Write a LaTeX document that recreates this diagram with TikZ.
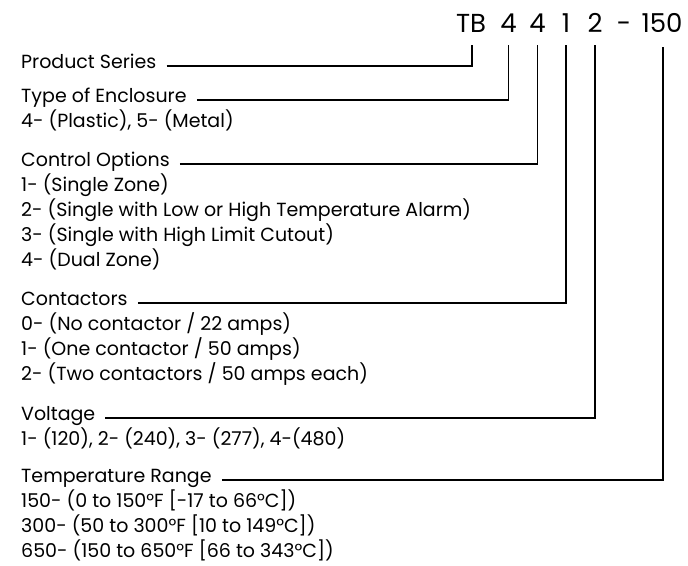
\documentclass[tikz,border=0pt]{standalone}
\usepackage{fontspec}
\setmainfont{Poppins}
\usepackage{tikz}
\usetikzlibrary{calc}

\begin{document}
\begin{tikzpicture}[x=1pt, y=-1pt, font=\fontsize{19}{22}\selectfont,
    every node/.style={inner sep=0pt},
    lead/.style={line width=1.6pt},
    code/.style={anchor=base, font=\fontsize{26}{30}\selectfont},
    item/.style={anchor=base west}]

    % 1. Fix the frame to the size of the sheet
    \useasboundingbox (0,0) rectangle (688,565);

    % 2. The model number across the top
    \node[code] (tb) at (471,32) {TB};
    \node[code] (encl) at (508.5,32) {4};
    \node[code] (ctrl) at (537.5,32) {4};
    \node[code] (cont) at (566,32) {1};
    \node[code] (volt) at (595,32) {2};
    \node[code] (dash) at (624,32) {-};
    \node[code] (temp) at (662,32) {150};

    % 3. Product series
    \node[item] (prod) at (21,68) {Product Series};

    % 4. Type of enclosure
    \node[item] (enclt) at (21,102) {Type of Enclosure};
    \node[item] (encla) at (21,127) {4- (Plastic), 5- (Metal)};

    % 5. Control options
    \node[item] (ctrlt) at (21,166) {Control Options};
    \node[item] (ctrla) at (21,191) {1- (Single Zone)};
    \node[item] (ctrlb) at (21,216) {2- (Single with Low or High Temperature Alarm)};
    \node[item] (ctrlc) at (21,241) {3- (Single with High Limit Cutout)};
    \node[item] (ctrld) at (21,266) {4- (Dual Zone)};

    % 6. Contactors
    \node[item] (contt) at (21,305) {Contactors};
    \node[item] (conta) at (21,330) {0- (No contactor / 22 amps)};
    \node[item] (contb) at (21,355) {1- (One contactor / 50 amps)};
    \node[item] (contc) at (21,380) {2- (Two contactors / 50 amps each)};

    % 7. Voltage
    \node[item] (voltt) at (21,420) {Voltage};
    \node[item] (volta) at (21,445) {1- (120), 2- (240), 3- (277), 4-(480)};

    % 8. Temperature range
    \node[item] (tempt) at (21,482) {Temperature Range};
    \node[item] (tempa) at (21,507) {150- (0 to 150°F [-17 to 66°C])};
    \node[item] (tempb) at (21,532) {300- (50 to 300°F [10 to 149°C])};
    \node[item] (tempc) at (21,557) {650- (150 to 650°F [66 to 343°C])};

    % 9. Leaders from each heading up to its digit
    \draw[lead] ($(prod.base east)+(10,-2)$) -| ($(tb.base)+(1,13)$);
    \draw[lead] ($(enclt.base east)+(10,-2)$) -| ($(encl.base)+(0,13)$);
    \draw[lead] ($(ctrlt.base east)+(10,-2)$) -| ($(ctrl.base)+(0,13)$);
    \draw[lead] ($(contt.base east)+(10,-2)$) -| ($(cont.base)+(0,13)$);
    \draw[lead] ($(voltt.base east)+(10,-2)$) -| ($(volt.base)+(0,13)$);
    \draw[lead] ($(tempt.base east)+(10,-2)$) -| ($(temp.base)+(1,15)$);

\end{tikzpicture}
\end{document}
